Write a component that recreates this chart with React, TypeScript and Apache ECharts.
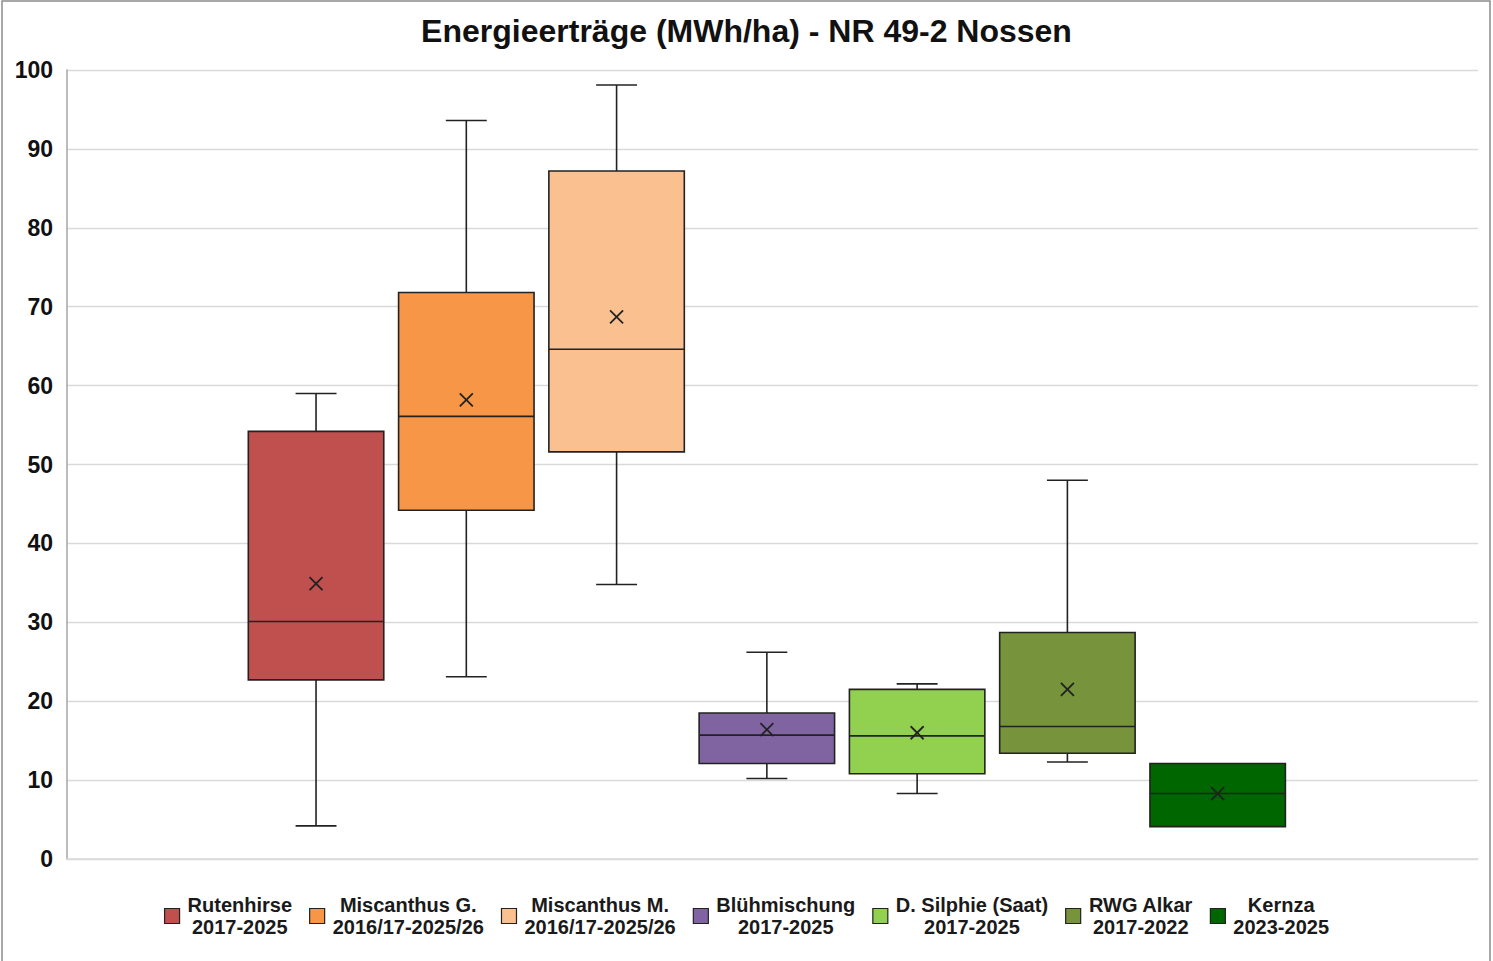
import React, { useEffect, useRef } from "react";
import * as echarts from "echarts";

const categories = [
  "Rutenhirse",
  "Miscanthus G.",
  "Miscanthus M.",
  "Blühmischung",
  "D. Silphie (Saat)",
  "RWG Alkar",
  "Kernza",
];
const periods = [
  "2017-2025",
  "2016/17-2025/26",
  "2016/17-2025/26",
  "2017-2025",
  "2017-2025",
  "2017-2022",
  "2023-2025",
];
const colors = ["#C0504D", "#F79646", "#FAC090", "#8064A2", "#92D050", "#77933C", "#006600"];
// [min, Q1, median, Q3, max, mean]
const minVals = [4.2, 23.1, 34.8, 10.2, 8.3, 12.3, 4.1];
const q1Vals = [22.7, 44.2, 51.6, 12.1, 10.8, 13.4, 4.1];
const medianVals = [30.1, 56.1, 64.6, 15.7, 15.6, 16.8, 8.3];
const q3Vals = [54.2, 71.8, 87.2, 18.5, 21.5, 28.7, 12.1];
const maxVals = [59.0, 93.6, 98.1, 26.2, 22.2, 48.0, 12.1];
const meanVals = [34.9, 58.2, 68.7, 16.4, 16.0, 21.5, 8.3];
const yTicks = { min: 0, max: 100, interval: 10 };

const FONT = "'Liberation Sans', Arial, Helvetica, sans-serif";
const SLOT = 0.1065;
const BOX = 0.096;
const CAP = 0.029;
const SHIFT = -0.004;
const INK = "#222222";

function renderBox(params: any, api: any) {
  const i = params.seriesIndex;
  const n = categories.length;
  const xv = api.value(0);
  const base = api.coord([xv, 0]);
  const band = api.size([1, 0])[0];
  const cx = base[0] + (i - (n - 1) / 2) * band * SLOT + band * SHIFT;
  const half = (band * BOX) / 2;
  const capHalf = (band * CAP) / 2;
  const y = (k: number) => api.coord([xv, api.value(k)])[1];
  const yMin = y(1), yQ1 = y(2), yMed = y(3), yQ3 = y(4), yMax = y(5), yMean = y(6);
  const ls = { stroke: INK, lineWidth: 1.6 };
  const children: any[] = [];
  if (yQ3 - yMax > 0.5) {
    children.push({ type: "line", shape: { x1: cx, y1: yQ3, x2: cx, y2: yMax }, style: ls });
    children.push({ type: "line", shape: { x1: cx - capHalf, y1: yMax, x2: cx + capHalf, y2: yMax }, style: ls });
  }
  if (yMin - yQ1 > 0.5) {
    children.push({ type: "line", shape: { x1: cx, y1: yQ1, x2: cx, y2: yMin }, style: ls });
    children.push({ type: "line", shape: { x1: cx - capHalf, y1: yMin, x2: cx + capHalf, y2: yMin }, style: ls });
  }
  children.push({
    type: "rect",
    shape: { x: cx - half, y: yQ3, width: half * 2, height: yQ1 - yQ3 },
    style: { fill: api.visual("color"), stroke: INK, lineWidth: 1.6 },
  });
  children.push({ type: "line", shape: { x1: cx - half, y1: yMed, x2: cx + half, y2: yMed }, style: ls });
  const m = 6.5;
  const xs = { stroke: INK, lineWidth: 1.8 };
  children.push({ type: "line", shape: { x1: cx - m, y1: yMean - m, x2: cx + m, y2: yMean + m }, style: xs });
  children.push({ type: "line", shape: { x1: cx - m, y1: yMean + m, x2: cx + m, y2: yMean - m }, style: xs });
  return { type: "group", children };
}

export default function App() {
  const ref = useRef<HTMLDivElement>(null);
  useEffect(() => {
    document.body.style.margin = "0";
    if (!ref.current) return;
    const chart = echarts.init(ref.current, undefined, { renderer: "svg" });
    const series = categories.map((name, i) => ({
      type: "custom",
      name,
      renderItem: renderBox,
      itemStyle: { color: colors[i] },
      encode: { x: 0, y: [1, 2, 3, 4, 5, 6] },
      data: [[0, minVals[i], q1Vals[i], medianVals[i], q3Vals[i], maxVals[i], meanVals[i]]],
    }));
    chart.setOption({
      animation: false,
      backgroundColor: "#ffffff",
      title: {
        text: "Energieerträge (MWh/ha) - NR 49-2 Nossen",
        left: "center",
        top: 10,
        textStyle: { fontFamily: FONT, fontSize: 32, fontWeight: "bold", color: "#111" },
      },
      grid: { left: 67, right: 15, top: 70, bottom: 102 },
      xAxis: {
        type: "category",
        data: [""],
        axisTick: { show: false },
        axisLabel: { show: false },
        axisLine: { show: true, lineStyle: { color: "#d9d9d9", width: 1.5 } },
      },
      yAxis: {
        type: "value",
        min: yTicks.min,
        max: yTicks.max,
        interval: yTicks.interval,
        axisLine: { show: true, lineStyle: { color: "#a6a6a6", width: 1.5 } },
        axisTick: { show: false },
        splitLine: { lineStyle: { color: "#d9d9d9", width: 1.3 } },
        axisLabel: { fontFamily: FONT, fontSize: 23, fontWeight: "bold", color: "#111", margin: 14 },
      },
      legend: {
        bottom: 19,
        left: "center",
        icon: "rect",
        itemWidth: 15,
        itemHeight: 15,
        itemGap: 17,
        itemStyle: { borderColor: INK, borderWidth: 1.2 },
        data: categories,
        formatter: (name: string) => {
          const idx = categories.indexOf(name);
          return `{a|${name}}\n{a|${periods[idx]}}`;
        },
        textStyle: {
          rich: {
            a: {
              fontFamily: FONT,
              fontSize: 20,
              fontWeight: "bold",
              color: "#1a1a1a",
              lineHeight: 22,
              align: "center",
              padding: [0, 0, 0, 3],
            },
          },
        },
      },
      graphic: [
        {
          type: "rect",
          shape: { x: 2, y: 1, width: 1488, height: 970 },
          style: { fill: "none", stroke: "#8c8c8c", lineWidth: 1.5 },
          silent: true,
        },
      ],
      series,
    });
    return () => chart.dispose();
  }, []);
  return <div ref={ref} style={{ width: 1493, height: 961 }} />;
}
